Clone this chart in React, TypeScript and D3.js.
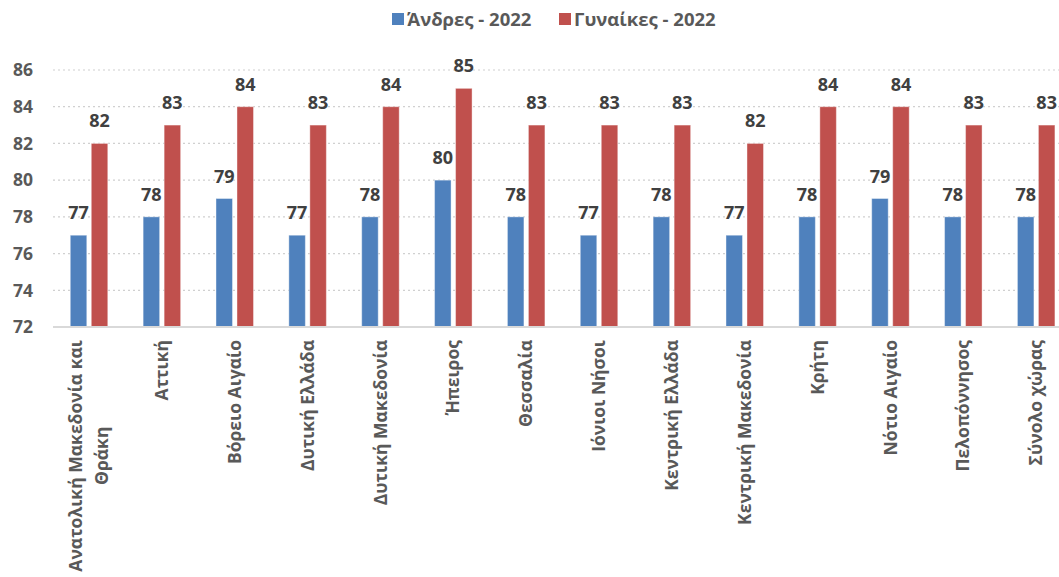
import React, { useEffect, useRef } from 'react';
import * as d3 from 'd3';

const categories: string[][] = [
  ['Ανατολική Μακεδονία και', 'Θράκη'],
  ['Αττική'],
  ['Βόρειο Αιγαίο'],
  ['Δυτική Ελλάδα'],
  ['Δυτική Μακεδονία'],
  ['Ήπειρος'],
  ['Θεσσαλία'],
  ['Ιόνιοι Νήσοι'],
  ['Κεντρική Ελλάδα'],
  ['Κεντρική Μακεδονία'],
  ['Κρήτη'],
  ['Νότιο Αιγαίο'],
  ['Πελοπόννησος'],
  ['Σύνολο χώρας'],
];

const men = [77, 78, 79, 77, 78, 80, 78, 77, 78, 77, 78, 79, 78, 78];
const women = [82, 83, 84, 83, 84, 85, 83, 83, 83, 82, 84, 84, 83, 83];

const seriesNames = ['Άνδρες - 2022', 'Γυναίκες - 2022'];
const seriesColors = ['#4F81BD', '#C0504D'];
const yTicks = [72, 74, 76, 78, 80, 82, 84, 86];

const FONT = "'Open Sans', 'Noto Sans', sans-serif";

const App: React.FC = () => {
  const ref = useRef<SVGSVGElement>(null);

  useEffect(() => {
    if (!ref.current) return;
    const svg = d3.select(ref.current);
    svg.selectAll('*').remove();

    const keys = categories.map(c => c.join(' '));
    const x = d3.scaleBand<string>().domain(keys).range([52.6, 1072.6]).padding(0);
    const inner = d3.scaleBand<string>().domain(['m', 'w']).range([-18.75, 18.75]).paddingInner(0.214);
    const y = d3.scaleLinear().domain([72, 86]).range([327, 70]);

    // gridlines
    svg.append('g')
      .selectAll('line')
      .data(yTicks.filter(t => t > 72))
      .enter()
      .append('line')
      .attr('x1', 53)
      .attr('x2', 1059)
      .attr('y1', d => y(d))
      .attr('y2', d => y(d))
      .attr('stroke', '#d0d0d0')
      .attr('stroke-width', 1.2)
      .attr('stroke-dasharray', '2,3');

    // y tick labels
    svg.append('g')
      .selectAll('text')
      .data(yTicks)
      .enter()
      .append('text')
      .attr('x', 33)
      .attr('y', d => y(d))
      .attr('dy', '0.36em')
      .attr('text-anchor', 'end')
      .style('font-family', FONT)
      .style('font-size', '17.5px')
      .style('font-weight', 'bold')
      .style('fill', '#595959')
      .text(d => d);

    const series = [men, women];
    const subKeys = ['m', 'w'];

    series.forEach((vals, si) => {
      const g = svg.append('g');
      g.selectAll('rect')
        .data(vals)
        .enter()
        .append('rect')
        .attr('x', (d, i) => (x(keys[i]) as number) + x.bandwidth() / 2 + (inner(subKeys[si]) as number))
        .attr('y', d => y(d))
        .attr('width', inner.bandwidth())
        .attr('height', d => y(72) - y(d))
        .attr('fill', seriesColors[si])
        .attr('stroke', '#ffffff')
        .attr('stroke-opacity', 0.4)
        .attr('stroke-width', 1);

      g.selectAll('text')
        .data(vals)
        .enter()
        .append('text')
        .attr('x', (d, i) => (x(keys[i]) as number) + x.bandwidth() / 2 + (inner(subKeys[si]) as number) + inner.bandwidth() / 2)
        .attr('y', d => y(d) - 16)
        .attr('text-anchor', 'middle')
        .style('font-family', FONT)
        .style('font-size', '18px')
        .style('font-weight', 'bold')
        .style('fill', '#404040')
        .text(d => d);
    });

    // x axis line
    svg.append('line')
      .attr('x1', 53)
      .attr('x2', 1059)
      .attr('y1', y(72))
      .attr('y2', y(72))
      .attr('stroke', '#d9d9d9')
      .attr('stroke-width', 2);

    // x labels (rotated)
    const labelTop = 340;
    const lineGap = 26;
    categories.forEach((lines, i) => {
      const cx = (x(keys[i]) as number) + x.bandwidth() / 2;
      const n = lines.length;
      const g = svg.append('g');
      const texts = lines.map((line, li) => {
        const off = (li - (n - 1) / 2) * lineGap;
        return g.append('text')
          .attr('transform', `translate(${cx + off},${labelTop}) rotate(-90)`)
          .attr('dy', '0.35em')
          .attr('text-anchor', 'end')
          .style('font-family', FONT)
          .style('font-size', '17.5px')
          .style('font-weight', 'bold')
          .style('fill', '#595959')
          .text(line);
      });
      if (n > 1) {
        const widths = texts.map(t => (t.node() as SVGTextElement).getComputedTextLength());
        const maxW = Math.max(...widths);
        texts.forEach((t, li) => {
          const off = (li - (n - 1) / 2) * lineGap;
          t.attr('text-anchor', 'middle')
            .attr('transform', `translate(${cx + off},${labelTop + maxW / 2}) rotate(-90)`);
        });
      }
    });

    // legend
    const legend = svg.append('g');
    const legendX = [392, 559];
    seriesNames.forEach((name, i) => {
      legend.append('rect')
        .attr('x', legendX[i])
        .attr('y', 13)
        .attr('width', 12)
        .attr('height', 12)
        .attr('fill', seriesColors[i]);
      legend.append('text')
        .attr('x', legendX[i] + 15)
        .attr('y', 19)
        .attr('dy', '0.36em')
        .style('font-family', FONT)
        .style('font-size', '18.5px')
        .style('font-weight', 'bold')
        .style('fill', '#595959')
        .text(name);
    });
  }, []);

  return (
    <svg
      ref={ref}
      width={1059}
      height={577}
      style={{ position: 'absolute', left: 0, top: 0, background: '#ffffff' }}
    />
  );
};

export default App;
